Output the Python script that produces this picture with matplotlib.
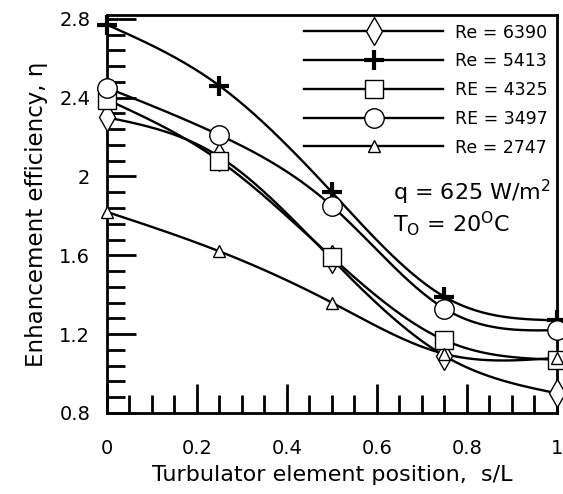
import numpy as np
import matplotlib
matplotlib.use("Agg")
import matplotlib.pyplot as plt
from matplotlib.ticker import MultipleLocator, FuncFormatter

x_pos = [0.0, 0.25, 0.5, 0.75, 1.0]
labels = ["Re = 6390", "Re = 5413", "RE = 4325", "RE = 3497", "Re = 2747"]
re6390 = [2.30, 2.10, 1.58, 1.09, 0.90]
re5413 = [2.77, 2.46, 1.92, 1.39, 1.27]
re4325 = [2.39, 2.08, 1.59, 1.17, 1.07]
re3497 = [2.45, 2.21, 1.85, 1.33, 1.22]
re2747 = [1.82, 1.62, 1.36, 1.10, 1.08]
series = [re6390, re5413, re4325, re3497, re2747]
markers = ["d", "+", "s", "o", "^"]
msizes = [14, 15, 13, 14, 9]

def natural_spline(x, y, xs):
    x = np.asarray(x, float); y = np.asarray(y, float)
    n = len(x)
    h = np.diff(x)
    A = np.zeros((n, n)); b = np.zeros(n)
    A[0, 0] = 1; A[-1, -1] = 1
    for i in range(1, n - 1):
        A[i, i - 1] = h[i - 1]; A[i, i] = 2 * (h[i - 1] + h[i]); A[i, i + 1] = h[i]
        b[i] = 3 * ((y[i + 1] - y[i]) / h[i] - (y[i] - y[i - 1]) / h[i - 1])
    c = np.linalg.solve(A, b)
    out = np.empty_like(xs)
    for k, xv in enumerate(xs):
        i = min(max(np.searchsorted(x, xv) - 1, 0), n - 2)
        dx = xv - x[i]
        bi = (y[i + 1] - y[i]) / h[i] - h[i] * (2 * c[i] + c[i + 1]) / 3
        di = (c[i + 1] - c[i]) / (3 * h[i])
        out[k] = y[i] + bi * dx + c[i] * dx ** 2 + di * dx ** 3
    return out

plt.rcParams['font.family'] = ['DejaVu Sans']
plt.rcParams['mathtext.fontset'] = 'dejavusans'
fig = plt.figure(figsize=(5.63, 4.94), dpi=100)
ax = fig.add_axes([0.190, 0.164, 0.799, 0.806])

xs = np.linspace(0, 1, 200)
for ys, m, ms, lab in zip(series, markers, msizes, labels):
    ax.plot(xs, natural_spline(x_pos, ys, xs), color="black", lw=1.7)
    mew = 3 if m == "+" else 1.0
    fc = "black" if m == "+" else "white"
    ax.plot(x_pos, ys, linestyle="none", marker=m, markersize=ms, mfc=fc,
            mec="black", mew=mew, clip_on=False, zorder=3)
    ax.plot([], [], color="black", lw=1.7, marker=m, markersize=ms,
            mfc=fc, mec="black", mew=mew, label=lab)

ax.set_xlim(0, 1)
ax.set_ylim(0.8, 2.82)
ax.xaxis.set_major_locator(MultipleLocator(0.2))
ax.xaxis.set_minor_locator(MultipleLocator(0.05))
ax.yaxis.set_major_locator(MultipleLocator(0.4))
ax.yaxis.set_minor_locator(MultipleLocator(0.08))
ax.xaxis.set_major_formatter(FuncFormatter(lambda v, p: f"{v:g}"))
ax.yaxis.set_major_formatter(FuncFormatter(lambda v, p: f"{v:g}"))
ax.tick_params(which="major", direction="in", length=21, width=2, labelsize=14)
ax.tick_params(which="minor", direction="in", length=13, width=2)
ax.tick_params(axis="x", which="major", pad=19)
ax.tick_params(axis="y", which="major", pad=12)
for s in ax.spines.values():
    s.set_linewidth(2)

ax.set_xlabel("Turbulator element position,  s/L", fontsize=16, labelpad=5)
ax.set_ylabel("Enhancement efficiency, η", fontsize=16.5, labelpad=8)

leg = ax.legend(loc="upper right", frameon=False, fontsize=12.5, handlelength=8.0,
                labelspacing=0.62, borderaxespad=0.3, handletextpad=0.7, numpoints=1,
                borderpad=0.2)

ax.text(0.635, 0.555, "q = 625 W/m$^2$", transform=ax.transAxes, ha="left", va="center",
        fontsize=16)
ax.text(0.635, 0.475, "T$_\\mathrm{O}$ = 20$^\\mathrm{O}$C", transform=ax.transAxes, ha="left",
        va="center", fontsize=16)

fig.savefig("out.png", dpi=100)
